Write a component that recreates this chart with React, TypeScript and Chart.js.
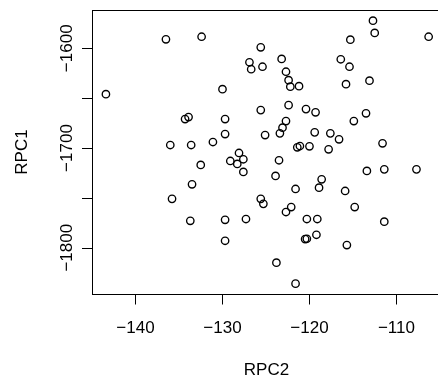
import React, { useEffect, useRef } from "react";
import { Chart, registerables } from "chart.js";

Chart.register(...registerables);

const rpc2: number[] = [
  -136.5, -132.4, -143.4, -125.6, -126.9, -126.7, -125.4, -130.0, -133.9, -134.3,
  -129.7, -125.6, -129.7, -125.1, -136.0, -133.6, -131.1, -128.1, -112.7, -112.5,
  -106.3, -115.3, -123.2, -122.7, -116.4, -115.4, -122.4, -122.2, -121.2, -115.8,
  -113.1, -122.4, -120.4, -119.3, -113.5, -114.9, -122.7, -123.1, -123.4, -119.4,
  -117.6, -116.6, -111.6, -121.4, -121.1, -120.0, -117.8, -129.1, -128.3, -127.6,
  -127.6, -132.5, -133.5, -135.8, -125.6, -125.3, -133.7, -129.7, -127.3, -129.7,
  -123.5, -123.9, -118.6, -118.9, -121.6, -115.9, -113.4, -111.4, -107.7, -122.1,
  -122.7, -114.8, -120.3, -119.1, -111.4, -120.5, -120.3, -119.2, -115.7, -123.8,
  -121.6,
];
const rpc1: number[] = [
  -1591, -1588.4, -1646, -1599, -1614, -1621, -1618.5, -1641, -1669, -1671,
  -1671, -1662, -1686, -1687, -1697, -1697, -1694, -1705, -1572.3, -1584.6,
  -1588.4, -1591.4, -1610.7, -1623.5, -1611, -1618.5, -1632, -1638.5, -1638, -1636,
  -1632.5, -1657, -1661, -1664.2, -1665.2, -1673, -1673, -1679.6, -1685.3, -1684.3,
  -1685.3, -1691.3, -1695.3, -1699.3, -1698, -1698.3, -1701.3, -1713, -1716, -1711.3,
  -1724, -1717, -1736.4, -1751, -1751, -1756, -1773, -1772, -1771.2, -1793,
  -1712.3, -1728, -1731.4, -1739.8, -1741.1, -1743.1, -1723, -1721.4, -1721.4, -1759.2,
  -1764.2, -1759.2, -1771.2, -1771.2, -1773.9, -1791.3, -1791.0, -1787, -1797.3, -1815,
  -1836,
];

const xTicks: number[] = [-140, -130, -120, -110];
const yTicks: number[] = [-1600, -1650, -1700, -1750, -1800];
const yTickLabels: number[] = [-1600, -1700, -1800];
const xTitle = "RPC2";
const yTitle = "RPC1";

const fmt = (v: number) => (v < 0 ? "\u2212" + Math.abs(v) : String(v));

const FONT = "17px 'Liberation Sans', Arial, Helvetica, sans-serif";

const axesPlugin = {
  id: "rAxes",
  afterDraw(chart: any) {
    const { ctx, chartArea } = chart;
    const xs = chart.scales.x;
    const ys = chart.scales.y;
    const L = chartArea.left, R = chartArea.right, T = chartArea.top, B = chartArea.bottom;
    ctx.save();
    ctx.strokeStyle = "#000";
    ctx.lineWidth = 1;
    ctx.strokeRect(L + 0.5, T + 0.5, R - L, B - T);
    ctx.beginPath();
    xTicks.forEach((v) => {
      const px = Math.round(xs.getPixelForValue(v)) + 0.5;
      ctx.moveTo(px, B);
      ctx.lineTo(px, B + 10.5);
    });
    yTicks.forEach((v) => {
      const py = Math.round(ys.getPixelForValue(v)) + 0.5;
      ctx.moveTo(L - 10, py);
      ctx.lineTo(L + 0.5, py);
    });
    ctx.stroke();
    ctx.fillStyle = "#000";
    ctx.font = FONT;
    ctx.textAlign = "center";
    ctx.textBaseline = "alphabetic";
    xTicks.forEach((v) => {
      ctx.fillText(fmt(v), xs.getPixelForValue(v), B + 38.5);
    });
    ctx.fillText(xTitle, (L + R) / 2, B + 81);
    yTickLabels.forEach((v) => {
      ctx.save();
      ctx.translate(L - 20.5, ys.getPixelForValue(v));
      ctx.rotate(-Math.PI / 2);
      ctx.fillText(fmt(v), 0, 0);
      ctx.restore();
    });
    ctx.save();
    ctx.translate(L - 65.5, (T + B) / 2);
    ctx.rotate(-Math.PI / 2);
    ctx.fillText(yTitle, 0, 0);
    ctx.restore();
    ctx.restore();
  },
};

export default function App() {
  const ref = useRef<HTMLCanvasElement | null>(null);
  useEffect(() => {
    if (!ref.current) return;
    const data = rpc2.map((x, i) => ({ x, y: rpc1[i] }));
    const chart = new Chart(ref.current, {
      type: "scatter",
      data: {
        datasets: [
          {
            data,
            pointStyle: "circle",
            pointRadius: 3.7,
            pointHoverRadius: 3.7,
            pointBorderWidth: 1.35,
            pointBorderColor: "#000",
            pointBackgroundColor: "rgba(0,0,0,0)",
          },
        ],
      },
      options: {
        animation: false,
        responsive: true,
        maintainAspectRatio: false,
        events: [],
        layout: { padding: { left: 92, top: 10, right: 5, bottom: 89 } },
        plugins: { legend: { display: false }, tooltip: { enabled: false } },
        scales: {
          x: { type: "linear", display: false, min: -145.0, max: -104.885 },
          y: { type: "linear", display: false, min: -1846.4, max: -1561.6 },
        },
      },
      plugins: [axesPlugin],
    });
    return () => chart.destroy();
  }, []);
  return (
    <div style={{ position: "absolute", left: 0, top: 0, width: 438, height: 383, overflow: "hidden", background: "#fff" }}>
      <div style={{ position: "relative", width: 446, height: 383 }}>
        <canvas ref={ref} />
      </div>
    </div>
  );
}
